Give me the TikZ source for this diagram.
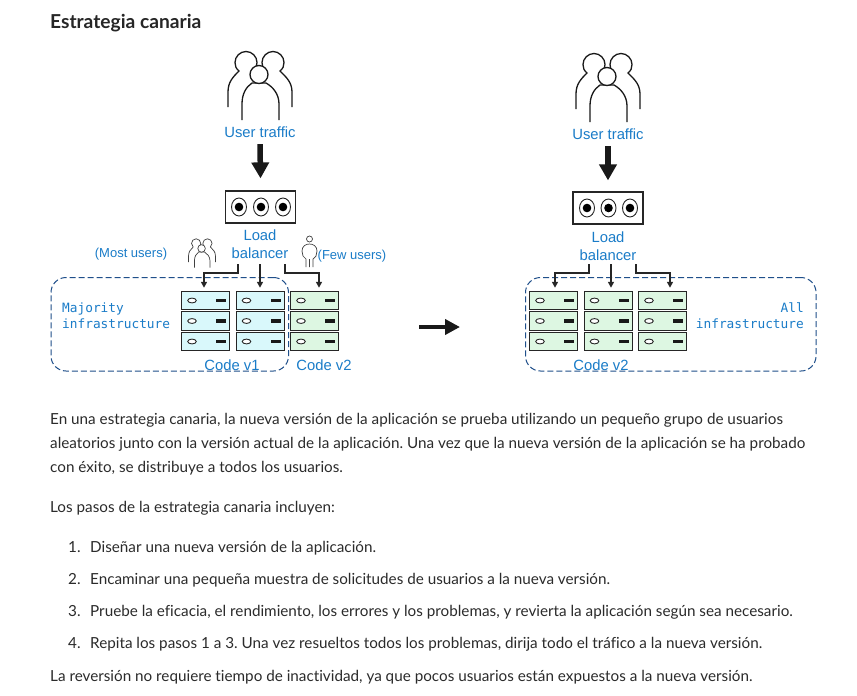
\documentclass[tikz,border=0pt]{standalone}
\usepackage{fontspec}
\usetikzlibrary{arrows.meta,calc}
\setmainfont{Lato}[Ligatures=NoCommon]
\newfontfamily\diafont{Liberation Sans}
\newfontfamily\monofont{DejaVu Sans Mono}
\definecolor{lblue}{HTML}{1A7CC8}
\definecolor{dashc}{HTML}{1F4F8A}
\definecolor{cyanf}{HTML}{D9F8FB}
\definecolor{greenf}{HTML}{DDF7E2}
\definecolor{bodyc}{HTML}{2B2B2B}
\tikzset{
  x=1pt,y=-1pt,
  lbl/.style={text=lblue,font=\diafont\fontsize{14.8}{17.5}\selectfont,align=center,inner sep=0},
  lblsmall/.style={text=lblue,font=\diafont\fontsize{13}{15}\selectfont,inner sep=0},
  mono/.style={text=lblue,font=\monofont\fontsize{12.8}{15.5}\selectfont,inner sep=0},
  bodytxt/.style={anchor=base west,text=bodyc,font=\frenchspacing\fontsize{15.25}{18}\selectfont,inner sep=0},
  srvbox/.style={draw=black!85,line width=1pt,minimum width=48pt,minimum height=18.5pt,inner sep=0},
  lbbox/.style={draw=black!85,line width=1.2pt,fill=white,minimum width=70pt,minimum height=32pt,inner sep=0},
  zone/.style={draw=dashc,line width=1pt,dash pattern=on 6pt off 3pt,rounded corners=15pt},
  feed/.style={draw=black!85,line width=2pt,-{Triangle[length=6pt,width=6pt]},shorten >=3pt},
  bigarrow/.style={draw=black!90,line width=5.5pt,-{Triangle[length=16pt,width=17pt]}},
  person/.style={draw=black!90,line width=1.3pt,fill=white},
  people/.pic={
    \draw[pic actions,fill=none] (-32,55) -- (-32,40) .. controls (-32,30) and (-27,25) .. (-21,19)
      .. controls (-24,16.5) and (-25,14) .. (-25,10.5) .. controls (-25,4.5) and (-20,-0.5) .. (-14,-0.5)
      .. controls (-8,-0.5) and (-3,4.5) .. (-3,10.5) .. controls (-3,13) and (-4,15.5) .. (-5,17);
    \draw[pic actions,fill=none] (32,55) -- (32,40) .. controls (32,30) and (26,25) .. (20,19)
      .. controls (23,16.5) and (24,14) .. (24,10.5) .. controls (24,4.5) and (19,-0.5) .. (13,-0.5)
      .. controls (7,-0.5) and (2,4.5) .. (2,10.5) .. controls (2,13) and (3,15.5) .. (4,17);
    \draw[pic actions] (-18,68) -- (-18,52) .. controls (-18,42) and (-14,35) .. (-8,31) -- (6,31) .. controls (13,35) and (19,42) .. (19,52) -- (19,68);
    \draw[pic actions] (-1,22.5) circle[radius=9];
  }
}
\newcommand{\srv}[4]{%
  \node[srvbox,fill=#4] (#1) at (#2+24.5,#3+9.5) {};
  \draw[black!85,line width=.9pt,fill=white] (#2+11,#3+9.5) ellipse[x radius=4.3,y radius=2.4];
  \fill[black!90] (#2+35,#3+7.8) rectangle (#2+45,#3+11.2);
}
\newcommand{\lbcirc}[2]{%
  \draw[black!85,line width=.9pt] (#1,#2) ellipse[x radius=7.5,y radius=9];
  \fill[black] (#1,#2) circle[radius=4.3];
}
\begin{document}
\begin{tikzpicture}
\useasboundingbox (0,0) rectangle (857,696);
\fill[white] (0,0) rectangle (857,696);
\node[anchor=base west,inner sep=0,text=black!85,font=\fontsize{19.2}{22}\selectfont\bfseries] (title) at (50,28.5) {Estrategia canaria};

% zones
\node[zone,minimum width=237.5pt,minimum height=93.5pt,inner sep=0,anchor=north west] (zoneL) at (50.5,277) {};
\node[zone,minimum width=290.5pt,minimum height=93.5pt,inner sep=0,anchor=north west] (zoneR) at (525,277) {};

% people
\pic[person] at (260,52) {people};
\pic[person] at (608,54) {people};
\pic[person,line width=.7pt,draw=black!75,scale=.42] at (202,239) {people};
\node[lbl] (ut1) at (260,132) {User traffic};
\node[lbl] (ut2) at (608,134) {User traffic};

% single person
\draw[black!75,line width=.7pt] (309.5,239) circle[radius=3];
\draw[black!75,line width=.7pt,fill=white] (306,267) -- (306,259) -- (303,256) -- (302,251) .. controls (302,246) and (306,244) .. (309.5,244) .. controls (313,244) and (317,246) .. (317,251) -- (316,256) -- (313,259) -- (313,267) (309.5,259) -- (309.5,267);

% load balancers
\node[lbbox] (lb1) at (260.5,207) {};
\lbcirc{239}{207}\lbcirc{261}{207}\lbcirc{283}{207}
\node[lbbox] (lb2) at (608,208) {};
\lbcirc{587}{208}\lbcirc{608.5}{208}\lbcirc{630}{208}
\node[lbl] (lbt1) at (260,244) {Load\\balancer};
\node[lbl] (lbt2) at (608,246) {Load\\balancer};

% big arrows
\draw[bigarrow] ($(ut1.south)+(0,6.5)$) -- ($(lb1.north)+(0,-12)$);
\draw[bigarrow] ($(ut2.south)+(0,6.5)$) -- ($(lb2.north)+(0,-11)$);

% servers
\foreach \r/\yy in {1/291,2/311.5,3/332}{
  \srv{sa\r}{181}{\yy}{cyanf}
  \srv{sb\r}{235.5}{\yy}{cyanf}
  \srv{sc\r}{290}{\yy}{greenf}
  \srv{sd\r}{529}{\yy}{greenf}
  \srv{se\r}{583.5}{\yy}{greenf}
  \srv{sf\r}{638}{\yy}{greenf}
}

% feeds
\coordinate (f1a) at (238,264);\coordinate (f1b) at (260,264);\coordinate (f1c) at (285,264);
\coordinate (f2a) at (589,264);\coordinate (f2b) at (611,264);\coordinate (f2c) at (636,264);
\draw[feed] (f1a) -- (238,272.5) -| ([xshift=-1.5pt]sa1.north);
\draw[feed] (f1b) -- (sb1.north-|f1b);
\draw[feed] (f1c) -- (285,272.5) -| ([xshift=4.5pt]sc1.north);
\draw[feed] (f2a) -- (589,273) -| ([xshift=1.5pt]sd1.north);
\draw[feed] (f2b) -- (se1.north-|f2b);
\draw[feed] (f2c) -- (636,273) -| ([xshift=7.5pt]sf1.north);

% labels
\node[lblsmall] (most) at (131,254) {(Most users)};
\node[lblsmall] (few) at (352,256) {(Few users)};
\node[lbl] (c1) at (232,365) {Code v1};
\node[lbl] (c2) at (324,365) {Code v2};
\node[lbl] (c3) at (601,365) {Code v2};
\node[mono,align=left,anchor=north west] (maj) at (62,303) {Majority\\infrastructure};
\node[mono,align=right,anchor=north east] (all) at (804,303) {All\\infrastructure};

% middle arrow
\coordinate (m1) at (419,327);\coordinate (m2) at (460,327);
\draw[draw=black!90,line width=4.5pt,-{Triangle[length=15pt,width=15pt]}] (m1) -- (m2);

% body
\node[bodytxt] (t1) at (50,424) {En una estrategia canaria, la nueva versión de la aplicación se prueba utilizando un pequeño grupo de usuarios};
\node[bodytxt] (t2) at (50,448) {aleatorios junto con la versión actual de la aplicación. Una vez que la nueva versión de la aplicación se ha probado};
\node[bodytxt] (t3) at (50,472) {con éxito, se distribuye a todos los usuarios.};
\node[bodytxt] (t4) at (50,512) {Los pasos de la estrategia canaria incluyen:};
\node[bodytxt] (n1) at (68,552) {1.};
\node[bodytxt] (l1) at (90,552) {Diseñar una nueva versión de la aplicación.};
\node[bodytxt] (n2) at (68,584) {2.};
\node[bodytxt] (l2) at (90,584) {Encaminar una pequeña muestra de solicitudes de usuarios a la nueva versión.};
\node[bodytxt] (n3) at (68,616) {3.};
\node[bodytxt] (l3) at (90,616) {Pruebe la eficacia, el rendimiento, los errores y los problemas, y revierta la aplicación según sea necesario.};
\node[bodytxt] (n4) at (68,648) {4.};
\node[bodytxt] (l4) at (90,648) {Repita los pasos 1 a 3. Una vez resueltos todos los problemas, dirija todo el tráfico a la nueva versión.};
\node[bodytxt] (t5) at (50,681) {La reversión no requiere tiempo de inactividad, ya que pocos usuarios están expuestos a la nueva versión.};
\end{tikzpicture}
\end{document}
